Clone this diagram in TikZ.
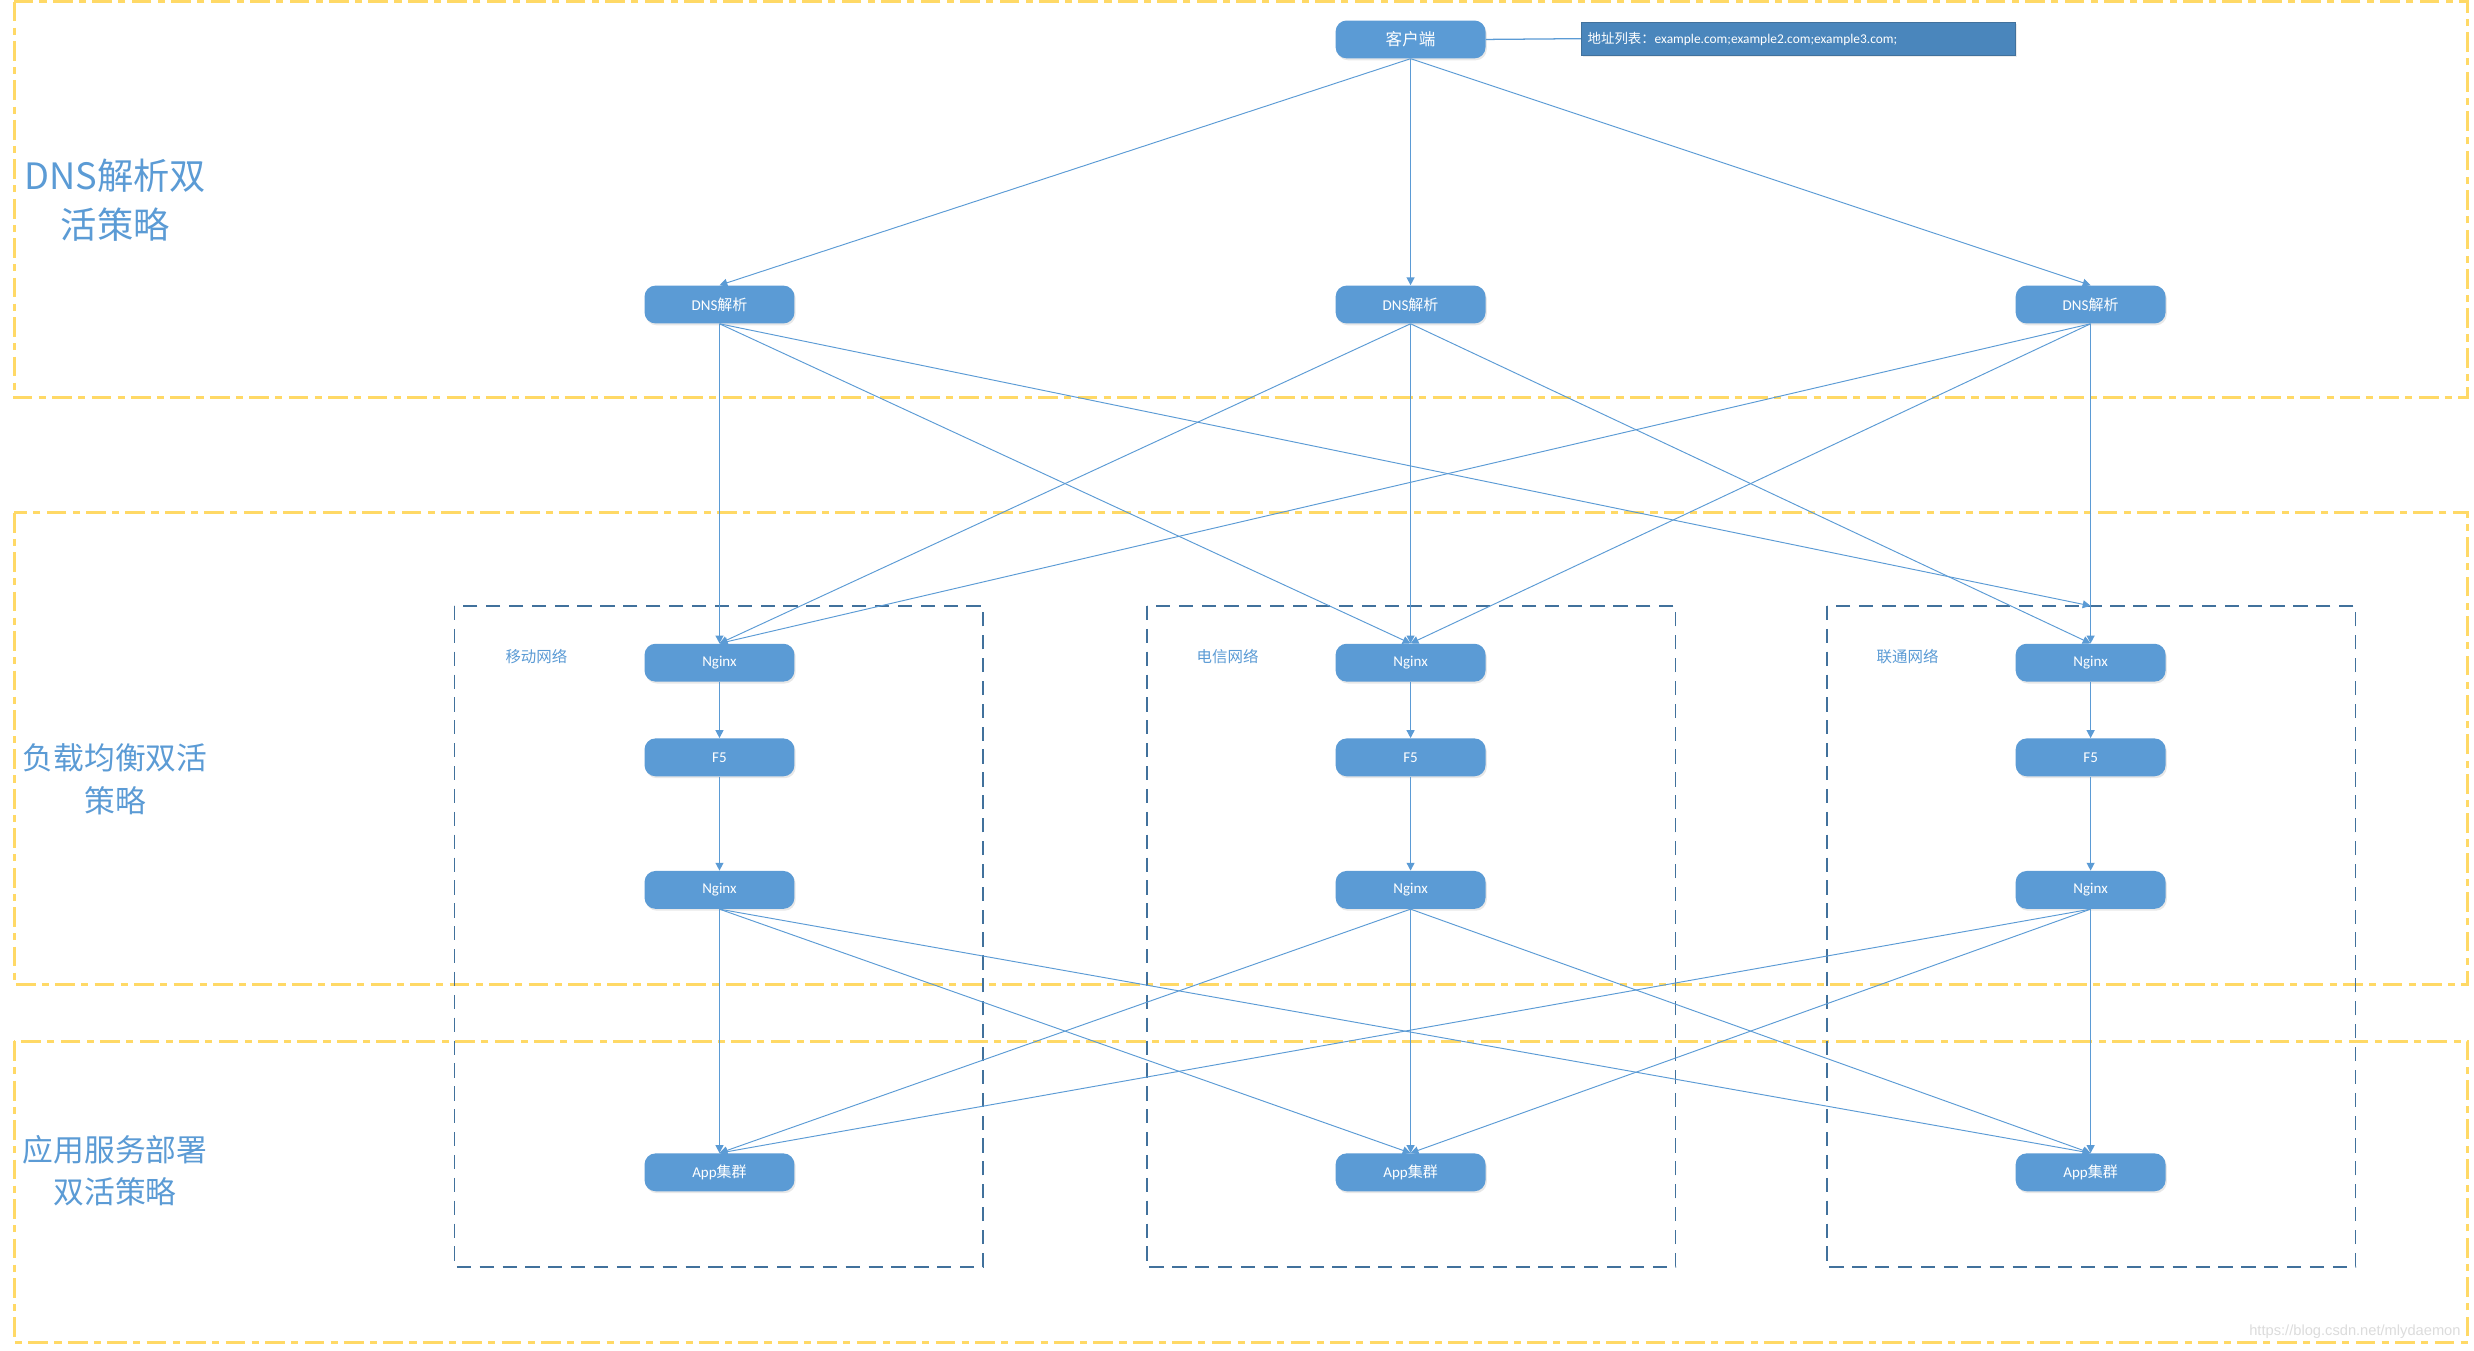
\documentclass[tikz,border=0pt]{standalone}
\usepackage{fontspec}
\setmainfont{Carlito}
\newfontfamily\cjk{Noto Sans CJK SC}
\newfontfamily\wmfont{Liberation Sans}
\usetikzlibrary{arrows.meta,shadows}
\definecolor{nodeblue}{HTML}{5B9BD5}
\definecolor{boxblue}{HTML}{4A86BC}
\definecolor{dashblue}{HTML}{41719C}
\definecolor{zoneyellow}{HTML}{FFD966}
\definecolor{wmgray}{HTML}{DCDCDC}
\begin{document}
\begin{tikzpicture}[x=1pt,y=-1pt,
  svc/.style={fill=nodeblue, rounded corners=7pt, minimum width=95pt, minimum height=24pt,
    inner sep=0pt, text=white, font=\fontsize{9.5}{11}\selectfont,
    drop shadow={opacity=0.18, shadow xshift=0.8pt, shadow yshift=-1.2pt}},
  addr/.style={fill=boxblue, draw=dashblue, line width=0.5pt, minimum height=21pt,
    text width=267pt, inner xsep=4pt, inner ysep=0pt, align=left, text=white,
    font=\fontsize{8.5}{10}\selectfont,
    drop shadow={opacity=0.15, shadow xshift=0.8pt, shadow yshift=-1pt}},
  conn/.style={draw=nodeblue, line width=0.6pt, -{Triangle[length=5pt,width=5pt]}},
  vconn/.style={conn, line width=0.9pt},
  zone/.style={draw=zoneyellow, line width=1.7pt, dash pattern=on 12.5pt off 4pt on 4.5pt off 4pt},
  netbox/.style={draw=dashblue, line width=0.8pt, dash pattern=on 9pt off 5.5pt},
  zonelabel/.style={text=nodeblue, align=center},
  netlabel/.style={text=nodeblue, font=\cjk\fontsize{9.8}{11}\selectfont}
]
\useasboundingbox (0,0) rectangle (1568,856);
\fill[white] (0,0) rectangle (1568,856);

% zones
\draw[zone] (9,1) rectangle (1564,252);
\draw[zone] (9,325) rectangle (1564,624);
\draw[zone] (9,660) rectangle (1564,851);

% network boxes
\draw[netbox] (288,384) rectangle (623,803);
\draw[netbox] (727,384) rectangle (1062,803);
\draw[netbox] (1158,384) rectangle (1493,803);

% zone labels
\node[zonelabel, font=\cjk\fontsize{23}{31}\selectfont] (z1) at (73,127) {DNS解析双\\活策略};
\node[zonelabel, font=\cjk\fontsize{19.5}{27}\selectfont] (z2) at (73,494) {负载均衡双活\\策略};
\node[zonelabel, font=\cjk\fontsize{19.5}{27}\selectfont] (z3) at (73,742) {应用服务部署\\双活策略};

% network labels
\node[netlabel] (l1) at (340,416) {移动网络};
\node[netlabel] (l2) at (778,416) {电信网络};
\node[netlabel] (l3) at (1209,416) {联通网络};

% nodes
\node[svc, font=\cjk\fontsize{10.5}{12}\selectfont] (cli) at (894,25) {客户端};
\node[addr, anchor=west] (addr) at (1002,24.5) {{\cjk 地址列表：}example.com;example2.com;example3.com;};

\node[svc] (d1) at (456,193) {DNS{\cjk 解析}};
\node[svc] (d2) at (894,193) {DNS{\cjk 解析}};
\node[svc] (d3) at (1325,193) {DNS{\cjk 解析}};

\node[svc] (n1) at (456,420) {Nginx};
\node[svc] (n2) at (894,420) {Nginx};
\node[svc] (n3) at (1325,420) {Nginx};

\node[svc] (f1) at (456,480) {F5};
\node[svc] (f2) at (894,480) {F5};
\node[svc] (f3) at (1325,480) {F5};

\node[svc] (m1) at (456,564) {Nginx};
\node[svc] (m2) at (894,564) {Nginx};
\node[svc] (m3) at (1325,564) {Nginx};

\node[svc] (a1) at (456,743) {App{\cjk 集群}};
\node[svc] (a2) at (894,743) {App{\cjk 集群}};
\node[svc] (a3) at (1325,743) {App{\cjk 集群}};

\coordinate (c13) at (1325,384);

% connectors
\draw[draw=nodeblue, line width=0.8pt] (cli.east) -- (addr.west);
\draw[conn] (cli.south) -- (d1.north);
\draw[vconn] (cli.south) -- (d2.north);
\draw[conn] (cli.south) -- (d3.north);

\draw[vconn] (d1.south) -- (n1.north);
\draw[conn] (d1.south) -- (n2.north);
\draw[conn] (d1.south) -- (c13);
\draw[conn] (d2.south) -- (n1.north);
\draw[vconn] (d2.south) -- (n2.north);
\draw[conn] (d2.south) -- (n3.north);
\draw[conn] (d3.south) -- (n1.north);
\draw[conn] (d3.south) -- (n2.north);
\draw[vconn] (d3.south) -- (n3.north);

\foreach \i in {1,2,3}{
  \draw[vconn] (n\i.south) -- (f\i.north);
  \draw[vconn] (f\i.south) -- (m\i.north);
  \draw[vconn] (m\i.south) -- (a\i.north);
}
\draw[conn] (m1.south) -- (a2.north);
\draw[conn] (m1.south) -- (a3.north);
\draw[conn] (m2.south) -- (a1.north);
\draw[conn] (m2.south) -- (a3.north);
\draw[conn] (m3.south) -- (a1.north);
\draw[conn] (m3.south) -- (a2.north);

% watermark
\node[font=\wmfont\fontsize{9.3}{11}\selectfont, text=wmgray, anchor=east] (wm) at (1563,844) {https://blog.csdn.net/mlydaemon};
\end{tikzpicture}
\end{document}
